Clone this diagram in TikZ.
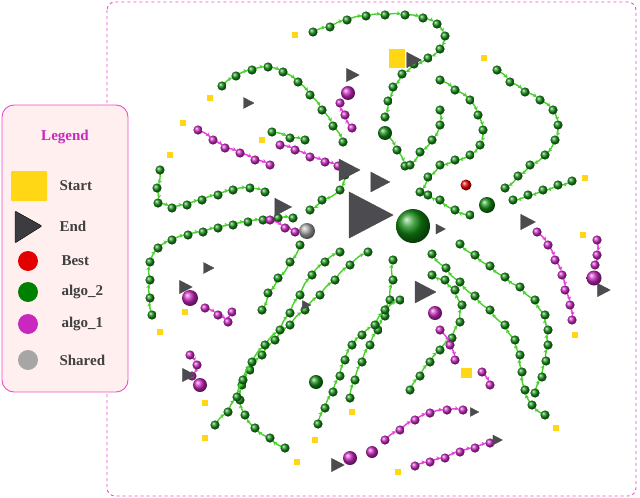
\documentclass[tikz,border=0pt]{standalone}
\usepackage{fontspec}
\setmainfont{Liberation Serif}
\usetikzlibrary{arrows.meta}
\definecolor{gc}{RGB}{20,140,20}
\definecolor{mc}{RGB}{200,40,190}
\definecolor{gl}{RGB}{70,210,40}
\definecolor{ml}{RGB}{235,60,225}
\definecolor{tri}{RGB}{75,75,80}
\definecolor{st}{RGB}{255,215,20}
\definecolor{pinkb}{RGB}{235,80,200}
\tikzset{
 gline/.style={gl,line width=1.4pt,-{Stealth[length=4.5pt,width=4pt]},shorten >=4pt,shorten <=3pt},
 mline/.style={ml,line width=1.4pt,-{Stealth[length=4.5pt,width=4pt]},shorten >=4pt,shorten <=3pt},
 endtri/.style={fill=tri,draw=black!70,line width=0.4pt},
 startsq/.style={fill=st},
 legtxt/.style={anchor=west,font=\bfseries\fontsize{15}{17}\selectfont,text=black!75}
}
\newcommand\chain[2]{%
 \foreach \x/\y [count=\i, remember=\x as \px (initially 0), remember=\y as \py (initially 0)] in {#2}{%
   \ifnum\i>1 \draw[#1line] (\px,\py) to[bend left=12] (\x,\y);\fi}%
 \foreach \x/\y in {#2}{\shade[ball color=#1c] (\x,\y) circle (4.6);}}
\newcommand\tri[3]{\draw[endtri] (#1-#3*0.45,#2-#3*0.55) -- (#1+#3*0.6,#2) -- (#1-#3*0.45,#2+#3*0.55) -- cycle;}
\newcommand\st[2]{\fill[startsq] (#1-3,#2-3) rectangle (#1+3,#2+3);}
\begin{document}
\begin{tikzpicture}[x=1pt,y=-1pt]
\useasboundingbox (0,0) rectangle (640,498);
\draw[pinkb,dashed,line width=0.9pt,rounded corners=8] (107,2) rectangle (636,496);
% starts (under chains)
\st{295}{35}\st{210}{98}\st{170}{155}\st{160}{332}\st{484}{58}\st{585}{178}
\st{183}{123}\st{262}{140}\st{297}{462}\st{352}{412}\st{556}{428}\st{315}{440}
\st{205}{438}\st{398}{472}\st{575}{335}\st{205}{403}\st{185}{312}\st{583}{235}
% chains green
\chain{g}{313/32,330/27,347/20,366/16,385/15,405/15,423/18,437/24,445/36,440/49,428/58,414/64,402/74,393/87,388/101,385/117}
\chain{g}{222/86,236/76,252/70,268/67,283/72,298/82,310/95,322/110,333/126,343/142}
\chain{g}{160/170,157/188,158/203,172/208,187/205,202/200,218/195,233/190,250/188,265/192}
\chain{g}{152/315,150/298,150/280,150/262,158/248,172/240,188/235,203/232,218/228,233/225,248/222,263/220,278/218,293/218}
\chain{g}{497/70,510/82,525/92,540/100,553/110,558/125,555/140,545/155,530/165,518/176,505/188}
\chain{g}{572/181,558/185,543/190,528/195,513/200}
\chain{g}{440/80,455/90,470/100,478/115,483/130,480/145,470/155,455/160,440/165,428/177,420/192}
\chain{g}{385/133,397/150,405/166}
\chain{g}{285/448,270/438,255/428,245/415,240/400,242/385,250/370,262/355,275/340,290/325,305/310,320/295,335/280,350/265,368/252}
\chain{g}{350/398,355/380,362/362,370/345,378/330,385/316,390/300,393/280,393/260}
\chain{g}{545/415,532/405,525/390,522/372,520/355,515/340,505/325,490/310,475/296,460/282,446/268,432/254}
\chain{g}{535/393,542/377,546/361,548/345,548/330,545/315,535/300,520/287,505/277,490/266,475/255,460/244}
\chain{g}{318/424,325/408,333/392,340/376,345/360,352/345,362/335,375/325,385/310,400/300}
\chain{g}{215/425,228/412,237/397,243/380,252/362,265/345,280/330,290/313,300/295,312/275,325/262,340/252}
\chain{g}{410/390,420/376,430/362,440/350,452/338,460/322,462/305,455/290,445/280,432/275}
\chain{g}{440/110,440/125,432/140,420/152,410/165}
\chain{g}{272/132,290/138,305/140}
\chain{g}{345/175,340/190,322/200,310/210}
\chain{g}{300/245,290/262,278/278,268/293,262/310}
\chain{g}{470/215,455/210,440/200,428/195}
% magenta chains
\chain{m}{198/130,213/140,225/148,240/153,255/160,270/165}
\chain{m}{280/145,295/150,310/157,325/162,338/166}
\chain{m}{352/128,345/115,340/103}
\chain{m}{205/308,218/315,228/322,232/312}
\chain{m}{190/355,197/365,192/376}
\chain{m}{415/466,430/462,445/458,460/452,475/448,490/443}
\chain{m}{385/440,400/430,415/420,430/413,447/410,463/410}
\chain{m}{537/232,548/245,555/260,562/275,565/290,570/305,572/320}
\chain{m}{597/240,597/255,595/265}
\chain{m}{440/330,450/345,455/360}
\chain{m}{482/372,490/385}
\chain{m}{270/220,285/228,295/232}
% big / special balls
\shade[ball color=gc] (413,226) circle (17);
\shade[ball color=gc] (385,133) circle (7);
\shade[ball color=gc] (487,205) circle (8);
\shade[ball color=gc] (316,382) circle (7);
\shade[ball color=red!90!black] (466,185) circle (5.5);
\shade[ball color=gray!70] (307,231) circle (8);
\shade[ball color=mc] (348,93) circle (7);
\shade[ball color=mc] (190,298) circle (8);
\shade[ball color=mc] (200,385) circle (7);
\shade[ball color=mc] (594,278) circle (7.5);
\shade[ball color=mc] (435,313) circle (7);
\shade[ball color=mc] (350,458) circle (7);
\shade[ball color=mc] (372,452) circle (6);
% end triangles
\tri{368}{215}{42}
\tri{348}{170}{20}
\tri{379}{182}{18}
\tri{282}{207}{16}
\tri{352}{75}{12}
\tri{413}{60}{14}
\tri{248}{103}{10}
\tri{208}{268}{10}
\tri{306}{305}{8}
\tri{185}{287}{12}
\tri{188}{375}{12}
\tri{337}{465}{12}
\tri{497}{440}{9}
\tri{527}{222}{14}
\tri{603}{290}{12}
\tri{424}{292}{20}
\tri{440}{229}{9}
\tri{474}{412}{8}
\fill[startsq] (389,49) rectangle (405,68);
\fill[startsq] (461,368) rectangle (472,378);
% legend
\draw[pinkb,fill=pink!25,line width=0.9pt,rounded corners=12] (2,105) rectangle (128,392);
\node[font=\bfseries\fontsize{15}{17}\selectfont,text=mc] (lt) at (65,137) {Legend};
\fill[startsq,rounded corners=1] (11,171) rectangle (47,201);
\node[legtxt] (l1) at (56,186) {Start};
\draw[fill=tri!80!black,rounded corners=1] (15,211) -- (42,226) -- (15,243) -- cycle;
\node[legtxt] (l2) at (56,226) {End};
\fill[red!90!black] (28,261) circle (10);
\node[legtxt] (l3) at (58,261) {Best};
\fill[green!50!black] (28,292) circle (10);
\node[legtxt] (l4) at (58,292) {algo\_2};
\fill[mc] (28,324) circle (10);
\node[legtxt] (l5) at (58,324) {algo\_1};
\fill[gray!70] (28,360) circle (10);
\node[legtxt] (l6) at (56,360) {Shared};
\end{tikzpicture}
\end{document}
